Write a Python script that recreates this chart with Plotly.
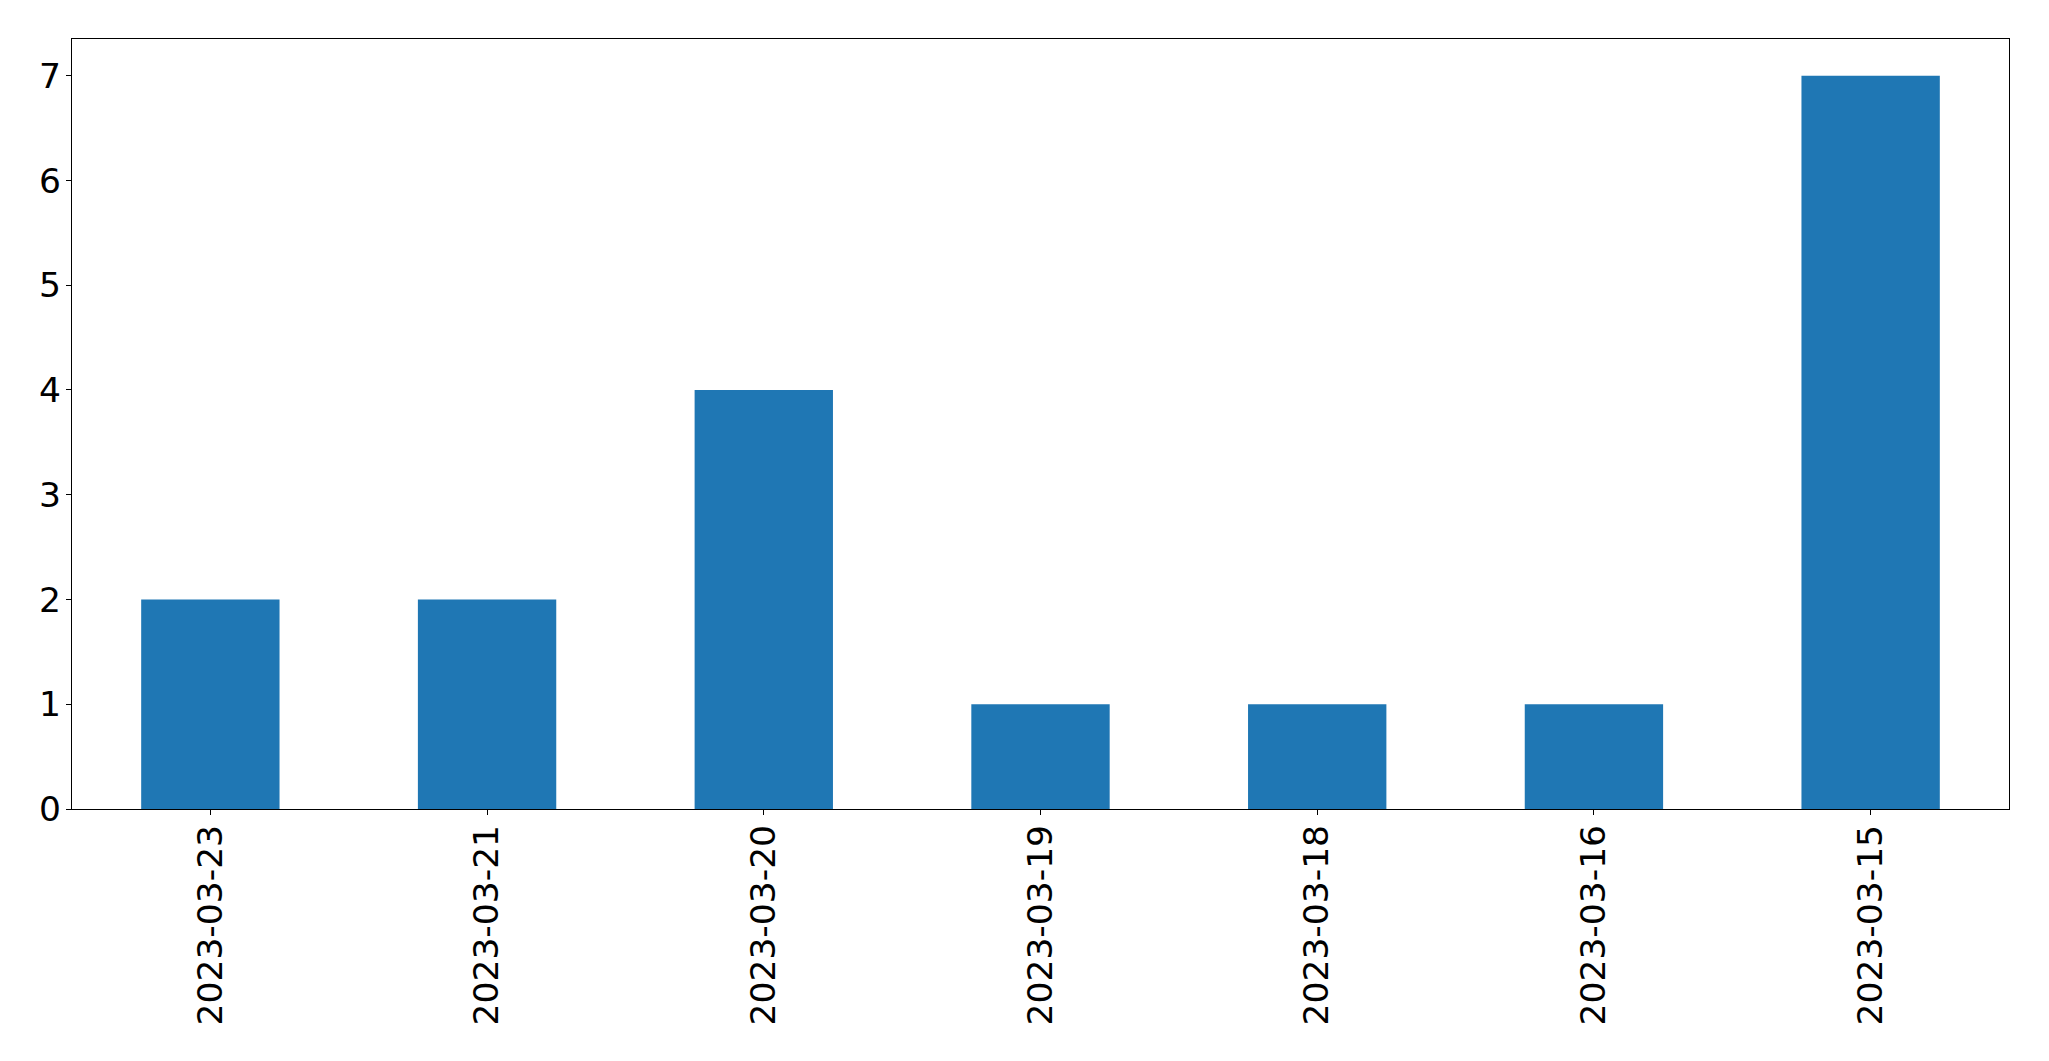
import plotly.graph_objects as go

categories = ["2023-03-23", "2023-03-21", "2023-03-20", "2023-03-19", "2023-03-18", "2023-03-16", "2023-03-15"]
values = [2, 2, 4, 1, 1, 1, 7]

fig = go.Figure(go.Bar(x=categories, y=values, width=0.5, marker=dict(color="#1f77b4", line=dict(width=0))))

axis_common = dict(
    showline=True, linecolor="black", linewidth=1.3, mirror=True,
    ticks="outside", ticklen=5, tickwidth=1.3, tickcolor="black",
    showgrid=False, zeroline=False, automargin=False,
    tickfont=dict(family="DejaVu Sans", size=34.5, color="black"),
)

fig.update_layout(
    template="simple_white",
    width=2049, height=1061,
    margin=dict(l=72, r=40, t=39, b=252),
    paper_bgcolor="white", plot_bgcolor="white",
    showlegend=False,
    xaxis=dict(type="category", range=[-0.5, 6.5], tickangle=-90, ticklabelstandoff=-4, **axis_common),
    yaxis=dict(range=[0, 7.35], tickmode="array", tickvals=[0, 1, 2, 3, 4, 5, 6, 7], ticklabelstandoff=-2, **axis_common),
)

fig.write_html("out.html", config={"displayModeBar": False},
               post_script="document.body.style.margin='0';document.body.style.overflow='hidden';")
